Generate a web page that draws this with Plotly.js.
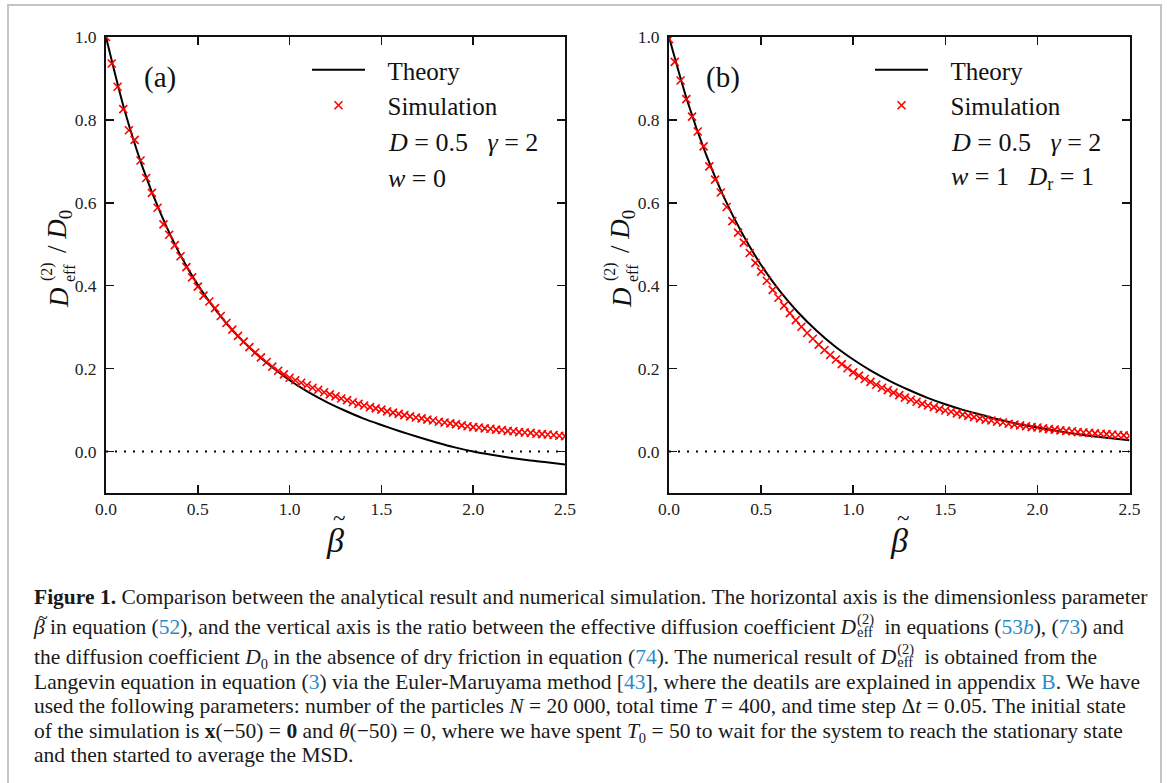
<!DOCTYPE html>
<html><head><meta charset="utf-8">
<script src="https://cdn.plot.ly/plotly-3.0.1.min.js"></script>
<style>
html,body{margin:0;padding:0;background:#fff;}
#wrap{position:relative;width:1167px;height:783px;overflow:hidden;font-family:'Liberation Serif','Times New Roman',serif;}
#plot{position:absolute;left:0;top:0;width:1167px;height:783px;}
#frame{position:absolute;left:7px;top:4px;width:1151px;height:800px;border:2px solid #c4c4c4;border-bottom:none;pointer-events:none;}
.cap{position:absolute;left:34px;font-size:21.5px;line-height:24px;white-space:nowrap;color:#1a1a1a;}
.cap a{color:#2a8bc7;text-decoration:none;}
.ss{display:inline-flex;flex-direction:column;vertical-align:middle;font-size:14.5px;line-height:13px;text-align:left;margin-left:1px;margin-right:5px;position:relative;top:-3px;}
.sub{font-size:14.5px;position:relative;top:5px;}
.tl{position:relative;display:inline-block;}
.tl span{position:absolute;left:4px;top:-9px;font-style:normal;font-size:18px;}
</style>
</head><body>
<div id="wrap">
<div id="plot"></div>
<div id="frame"></div>
<div class="cap" style="top:585px"><b>Figure 1.</b> Comparison between the analytical result and numerical simulation. The horizontal axis is the dimensionless parameter</div>
<div class="cap" style="top:615px"><i class="tl">β<span>~</span></i> in equation (<a>52</a>), and the vertical axis is the ratio between the effective diffusion coefficient <i>D</i><span class="ss"><span>(2)</span><span>eff</span></span> in equations (<a>53<i>b</i></a>), (<a>73</a>) and</div>
<div class="cap" style="top:645px">the diffusion coefficient <i>D</i><span class="sub">0</span> in the absence of dry friction in equation (<a>74</a>). The numerical result of <i>D</i><span class="ss"><span>(2)</span><span>eff</span></span> is obtained from the</div>
<div class="cap" style="top:670px">Langevin equation in equation (<a>3</a>) via the Euler-Maruyama method [<a>43</a>], where the deatils are explained in appendix <a>B</a>. We have</div>
<div class="cap" style="top:694px">used the following parameters: number of the particles <i>N</i> = 20 000, total time <i>T</i> = 400, and time step Δ<i>t</i> = 0.05. The initial state</div>
<div class="cap" style="top:719px">of the simulation is <b>x</b>(−50) = <b>0</b> and <i>θ</i>(−50) = 0, where we have spent <i>T</i><span class="sub">0</span> = 50 to wait for the system to reach the stationary state</div>
<div class="cap" style="top:743px">and then started to average the MSD.</div>
</div>
<script>
// ---- data ----
var betaTheory = [0.0,0.1,0.2,0.3,0.4,0.5,0.6,0.7,0.8,0.9,1.0,1.1,1.2,1.3,1.4,1.5,1.6,1.7,1.8,1.9,2.0,2.1,2.2,2.3,2.4,2.5];
var theoryA = [1.000,0.825,0.685,0.572,0.478,0.402,0.340,0.287,0.243,0.205,0.172,0.144,0.120,0.099,0.080,0.064,0.049,0.035,0.022,0.010,0.000,-0.008,-0.015,-0.021,-0.026,-0.031];
var theoryB = [1.000,0.845,0.718,0.612,0.524,0.450,0.388,0.336,0.292,0.254,0.222,0.194,0.170,0.149,0.130,0.114,0.100,0.088,0.076,0.066,0.058,0.050,0.043,0.037,0.032,0.027];

var betaSim = [0,0.031,0.063,0.094,0.125,0.156,0.188,0.219,0.25,0.281,0.313,0.344,0.375,0.406,0.438,0.469,0.5,0.531,0.563,0.594,0.625,0.656,0.688,0.719,0.75,0.781,0.813,0.844,0.875,0.906,0.938,0.969,1.0,1.031,1.063,1.094,1.125,1.156,1.188,1.219,1.25,1.281,1.313,1.344,1.375,1.406,1.438,1.469,1.5,1.531,1.563,1.594,1.625,1.656,1.688,1.719,1.75,1.781,1.813,1.844,1.875,1.906,1.938,1.969,2.0,2.031,2.063,2.094,2.125,2.156,2.188,2.219,2.25,2.281,2.313,2.344,2.375,2.406,2.438,2.469,2.5];
var simA = [1.000,0.936,0.880,0.826,0.775,0.752,0.702,0.660,0.624,0.588,0.548,0.523,0.498,0.471,0.445,0.420,0.398,0.376,0.362,0.346,
  0.327,0.310,0.294,0.279,0.265,0.252,0.239,0.227,0.216,0.205,0.195,0.186,0.178,
  0.172,0.166,0.160,0.154,0.149,0.143,0.138,0.133,0.128,0.124,0.119,0.115,0.111,0.107,0.104,0.101,0.097,0.094,0.091,0.088,0.085,0.082,0.080,0.077,0.075,0.072,0.070,0.068,0.066,0.063,0.061,0.059,0.058,0.056,0.055,0.053,0.052,0.050,0.049,0.047,0.046,0.045,0.043,0.042,0.041,0.040,0.038,0.037];
var simB = [0.995,0.940,0.895,0.850,0.808,0.772,0.736,0.688,0.656,0.625,0.590,0.556,0.528,0.504,0.479,0.455,
  0.434,0.412,0.390,0.371,0.352,0.334,0.317,0.301,0.286,0.272,0.258,0.245,0.233,0.222,0.211,0.201,0.191,
  0.183,0.175,0.168,0.161,0.154,0.148,0.142,0.136,0.130,0.125,0.120,0.115,0.111,0.107,0.103,0.099,0.096,0.092,0.089,0.086,0.083,0.080,0.077,0.075,0.072,0.070,0.067,0.065,0.063,0.061,0.059,0.058,0.056,0.054,0.053,0.051,0.050,0.049,0.047,0.046,0.045,0.044,0.043,0.042,0.041,0.040,0.039,0.038];

var seriesNames = ['Theory','Simulation'];
var panelLabels = ['(a)','(b)'];
var xTicks = [0.0,0.5,1.0,1.5,2.0,2.5];
var yTicks = [0.0,0.2,0.4,0.6,0.8,1.0];

// ---- layout helpers ----
var W = 1167, H = 783;
function px(x){return x/W;}
function py(y){return 1 - y/H;}
var FONT = 'Liberation Serif, Times New Roman, serif';
var INK = '#111';
var NB = '\u00a0', TH = '\u2009';

function makeAxes(x0, x1){
  return {
    x: {domain:[px(x0),px(x1)], range:[0,2.5], tickvals:xTicks, tickformat:'.1f', ticks:'inside', ticklen:8, tickwidth:1.5, tickcolor:INK,
        mirror:'allticks', showline:true, linewidth:2, linecolor:INK, showgrid:false, zeroline:false,
        tickfont:{family:FONT,size:17.5,color:'#222'}, ticklabelstandoff:-1},
    y: {domain:[py(493),py(37)], range:[-0.1,1.0], tickvals:yTicks, tickformat:'.1f', ticks:'inside', ticklen:8, tickwidth:1.5, tickcolor:INK,
        mirror:'allticks', showline:true, linewidth:2, linecolor:INK, showgrid:false, zeroline:false,
        tickfont:{family:FONT,size:17.5,color:'#222'}, ticklabelstandoff:4}
  };
}
var axA = makeAxes(106,565);
var axB = makeAxes(669,1129.5);
axA.x.anchor = 'y'; axA.y.anchor = 'x';
axB.x.anchor = 'y2'; axB.y.anchor = 'x2';

var lineStyle = {color:'#000',width:2,shape:'spline',smoothing:0.8};
var markStyle = {symbol:'x-thin',size:8,line:{color:'#ff0000',width:1.6},color:'#ff0000'};
var traces = [
  {x:betaTheory, y:theoryA, xaxis:'x', yaxis:'y', mode:'lines', name:NB+NB+TH+seriesNames[0], line:lineStyle, legend:'legend', legendgroup:'a1'},
  {x:betaSim, y:simA, xaxis:'x', yaxis:'y', mode:'markers', name:NB+NB+TH+seriesNames[1], marker:markStyle, legend:'legend', legendgroup:'a2'},
  {x:betaTheory, y:theoryB, xaxis:'x2', yaxis:'y2', mode:'lines', name:NB+NB+TH+seriesNames[0], line:lineStyle, legend:'legend2', legendgroup:'b1'},
  {x:betaSim, y:simB, xaxis:'x2', yaxis:'y2', mode:'markers', name:NB+NB+TH+seriesNames[1], marker:markStyle, legend:'legend2', legendgroup:'b2'}
];

function legendAt(x, y){
  return {x:px(x), y:py(y), xanchor:'left', yanchor:'top', bgcolor:'rgba(0,0,0,0)', borderwidth:0,
          font:{family:FONT,size:25,color:INK}, itemwidth:53, tracegroupgap:0, itemclick:false};
}

function ann(text, x, y, size, extra){
  var a = {text:text, x:px(x), y:py(y), xref:'paper', yref:'paper', showarrow:false,
           font:{family:FONT,size:size,color:INK}, xanchor:'center', yanchor:'middle'};
  for (var k in extra) a[k] = extra[k];
  return a;
}
function yTitle(dx){
  return [
    ann('<i>D</i>', 59+dx, 298, 27, {textangle:-90}),
    ann('(2)', 47+dx, 272, 16, {textangle:-90}),
    ann('eff', 69+dx, 273, 16, {textangle:-90}),
    ann('/'+NB+'<i>D</i><sub>0</sub>', 59+dx, 232, 27, {textangle:-90})
  ];
}
function xTitle(cx){
  return [ ann('<i>β</i>', cx, 540, 34), ann('~', cx+4, 518, 23) ];
}
var eq = NB+'='+NB;
var annotations = [
  ann(panelLabels[0], 160, 77, 29),
  ann(panelLabels[1], 723, 77, 29),
  ann('<i>D</i>'+eq+'0.5'+NB+NB+NB+'<i>γ</i>'+eq+'2', 386, 142, 26, {xanchor:'left'}),
  ann('<i>w</i>'+eq+'0', 386, 178, 26, {xanchor:'left'}),
  ann('<i>D</i>'+eq+'0.5'+NB+NB+NB+'<i>γ</i>'+eq+'2', 949, 142, 26, {xanchor:'left'}),
  ann('<i>w</i>'+eq+'1'+NB+NB+NB+'<i>D</i><sub>r</sub>'+eq+'1', 949, 178, 26, {xanchor:'left'})
].concat(xTitle(335)).concat(xTitle(899)).concat(yTitle(0)).concat(yTitle(563));

var layout = {
  width:W, height:H, margin:{l:0,r:0,t:0,b:0}, paper_bgcolor:'rgba(0,0,0,0)', plot_bgcolor:'#fff',
  showlegend:true,
  xaxis:axA.x, yaxis:axA.y, xaxis2:axB.x, yaxis2:axB.y,
  legend:legendAt(307,47), legend2:legendAt(870,47),
  annotations:annotations,
  shapes:[
    {type:'line', xref:'x', yref:'y', x0:0, x1:2.5, y0:0, y1:0, line:{color:'#000',width:2,dash:'2px,7px'}},
    {type:'line', xref:'x2', yref:'y2', x0:0, x1:2.5, y0:0, y1:0, line:{color:'#000',width:2,dash:'2px,7px'}}
  ]
};
Plotly.newPlot('plot', traces, layout, {staticPlot:true, displayModeBar:false});
</script>
</body></html>
